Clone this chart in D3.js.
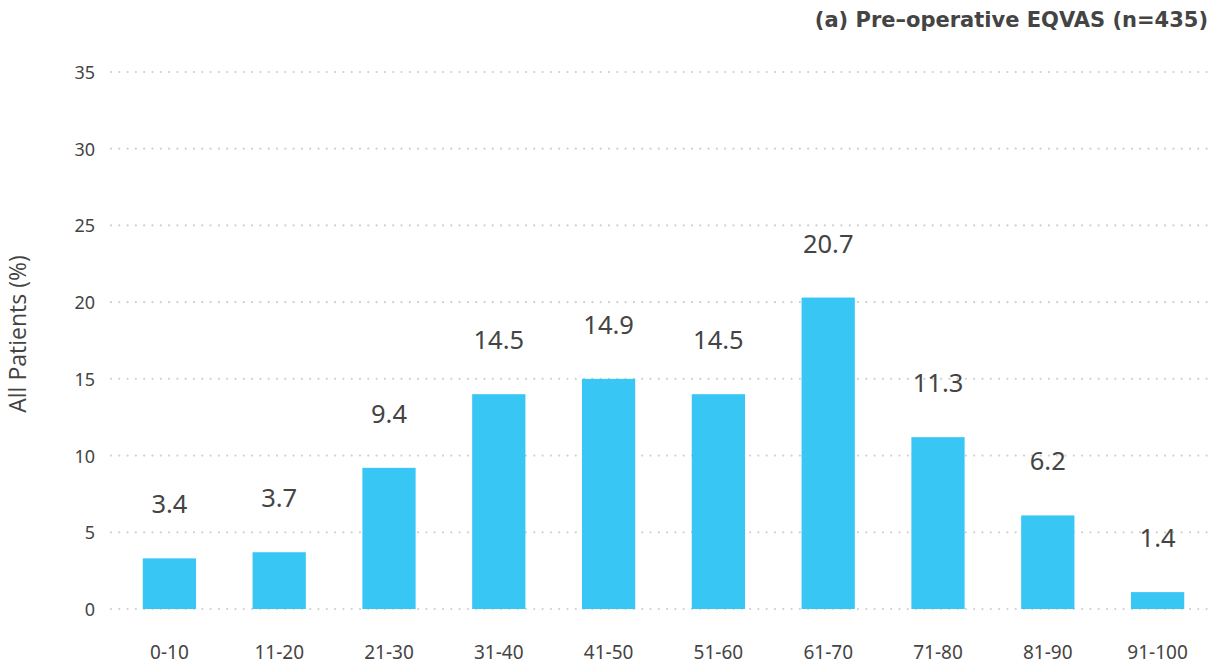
<!DOCTYPE html>
<html>
<head>
<meta charset="utf-8">
<script src="https://cdn.jsdelivr.net/npm/d3@7"></script>
<style>
  html, body { margin: 0; padding: 0; background: #fff; }
  svg { display: block; }
</style>
</head>
<body>
<svg id="chart" width="1212" height="668"></svg>
<script>
const categories = ["0-10","11-20","21-30","31-40","41-50","51-60","61-70","71-80","81-90","91-100"];
const barValues = [3.3, 3.7, 9.2, 14.0, 15.0, 14.0, 20.3, 11.2, 6.1, 1.1];
const labelValues = ["3.4","3.7","9.4","14.5","14.9","14.5","20.7","11.3","6.2","1.4"];
const yTicks = [0, 5, 10, 15, 20, 25, 30, 35];
const title = "(a) Pre\u2013operative EQVAS (n=435)";
const yTitle = "All Patients (%)";

const svg = d3.select("#chart");
const textColor = "#444";
const font = "'Noto Sans', sans-serif";

const x = d3.scaleBand().domain(categories).range([114.5, 1212.5]).paddingInner(0.515).paddingOuter(0.2575);
const y = d3.scaleLinear().domain([0, 35]).range([609, 72]);

// gridlines
svg.append("g").selectAll("line").data(yTicks).join("line")
  .attr("x1", 111).attr("x2", 1210)
  .attr("y1", d => y(d)).attr("y2", d => y(d))
  .attr("stroke", "#cfcfcf").attr("stroke-width", 2.2)
  .attr("stroke-dasharray", "0,8.3").attr("stroke-linecap", "round");

// y axis
const yAxis = d3.axisLeft(y).tickValues(yTicks).tickSize(0).tickPadding(0);
const yg = svg.append("g").attr("transform", "translate(95,0)").call(yAxis);
yg.select(".domain").remove();
yg.selectAll("text").attr("fill", textColor).style("font-family", font).style("font-size", "18px").attr("dy", "0.36em");

// x axis
const xAxis = d3.axisBottom(x).tickSize(0).tickPadding(0);
const xg = svg.append("g").attr("transform", "translate(0,659)").call(xAxis);
xg.select(".domain").remove();
xg.selectAll("text").attr("fill", textColor).style("font-family", font).style("font-size", "19px").attr("dy", "0");

// bars
svg.append("g").selectAll("rect").data(categories).join("rect")
  .attr("x", d => x(d)).attr("width", x.bandwidth())
  .attr("y", (d, i) => y(barValues[i]))
  .attr("height", (d, i) => y(0) - y(barValues[i]))
  .attr("fill", "#38c6f4");

// value labels
svg.append("g").selectAll("text").data(categories).join("text")
  .attr("x", d => x(d) + x.bandwidth() / 2)
  .attr("y", (d, i) => y(barValues[i]) - 45)
  .attr("text-anchor", "middle")
  .attr("fill", textColor)
  .style("font-family", font).style("font-size", "25.5px")
  .text((d, i) => labelValues[i]);

// title
svg.append("text").attr("x", 1208).attr("y", 27).attr("text-anchor", "end")
  .attr("fill", textColor).style("font-family", "'DejaVu Sans', sans-serif").style("font-size", "21px").style("font-weight", "bold")
  .text(title);

// y title
svg.append("text").attr("transform", "translate(26,334) rotate(-90)").attr("text-anchor", "middle")
  .attr("fill", textColor).style("font-family", "'Open Sans', sans-serif").style("font-size", "23px")
  .text(yTitle);
</script>
</body>
</html>
